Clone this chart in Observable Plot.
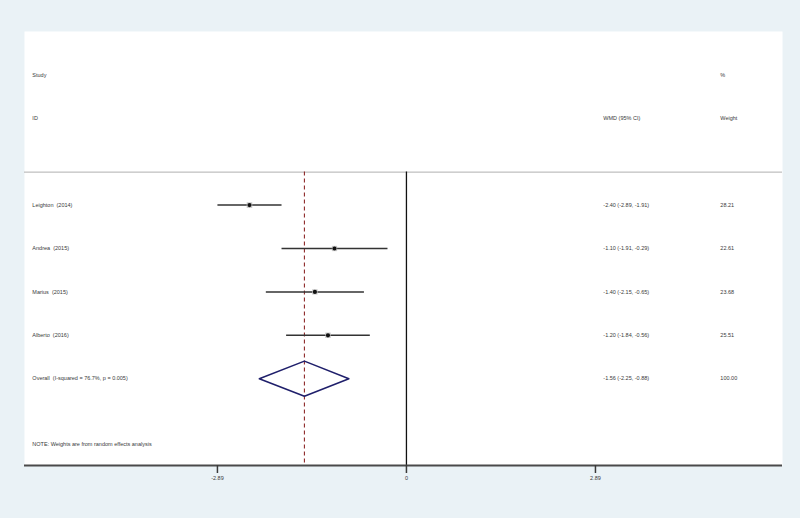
<!DOCTYPE html>
<html>
<head>
<meta charset="utf-8">
<script src="https://cdn.jsdelivr.net/npm/d3@7"></script>
<script src="https://cdn.jsdelivr.net/npm/@observablehq/plot@0.6"></script>
<style>
  html, body { margin: 0; padding: 0; background: #eaf2f6; }
  #chart svg { display: block; }
</style>
</head>
<body>
<div id="chart"></div>
<script>
// ---- data ----
const studies = ["Leighton  (2014)", "Andrea  (2015)", "Marius  (2015)", "Alberto  (2016)"];
const estimates = [-2.40, -1.10, -1.40, -1.20];
const lowerCI = [-2.89, -1.91, -2.15, -1.84];
const upperCI = [-1.91, -0.29, -0.65, -0.56];
const weights = [28.21, 22.61, 23.68, 25.51];
const overallLabel = "Overall  (I-squared = 76.7%, p = 0.005)";
const overallEst = -1.56;
const overallLo = -2.25;
const overallHi = -0.88;
const overallWeight = 100.00;
const tickValues = [-2.89, 0, 2.89];
const tickLabels = ["-2.89", "0", "2.89"];
const noteText = "NOTE: Weights are from random effects analysis";

// ---- layout (rows in y units, columns in x units) ----
const firstRow = 3;
const rows = studies.map((s, i) => ({
  label: s, est: estimates[i], lo: lowerCI[i], hi: upperCI[i], w: weights[i], row: firstRow + i
}));
const overallRow = firstRow + studies.length;
const overall = {label: overallLabel, est: overallEst, lo: overallLo, hi: overallHi, w: overallWeight, row: overallRow};
const fmt = v => v.toFixed(2);
const ciText = d => `${fmt(d.est)} (${fmt(d.lo)}, ${fmt(d.hi)})`;
const allRows = [...rows, overall];

const colLabel = -5.72, colCI = 3.01, colW = 4.80;
const sepY = 2.24, axisY = 9;
const dh = 0.405;
const diamond = [
  {x: overall.lo, y: overall.row},
  {x: overall.est, y: overall.row - dh},
  {x: overall.hi, y: overall.row},
  {x: overall.est, y: overall.row + dh},
  {x: overall.lo, y: overall.row}
];
const headers = [
  {t: "Study", x: colLabel, y: 0}, {t: "ID", x: colLabel, y: 1},
  {t: "WMD (95% CI)", x: colCI, y: 1},
  {t: "%", x: colW, y: 0}, {t: "Weight", x: colW, y: 1},
  {t: noteText, x: colLabel, y: 8.5}
];
const txt = "#3a3a3a";

const chart = Plot.plot({
  width: 800,
  height: 518,
  marginLeft: 24,
  marginRight: 18,
  marginTop: 31,
  marginBottom: 53,
  style: {background: "transparent", fontFamily: "'Liberation Sans', Arial, sans-serif", fontSize: "5.5px", color: txt},
  x: {domain: [-5.84, 5.75]},
  y: {domain: [-1, 9], reverse: true, axis: null},
  marks: [
    Plot.frame({fill: "white", stroke: null}),
    Plot.ruleY([sepY], {stroke: "#b0b0b0", strokeWidth: 1}),
    Plot.ruleX([0], {y1: sepY, y2: axisY, stroke: "#111", strokeWidth: 1.3}),
    Plot.ruleX([overallEst], {y1: sepY, y2: axisY, stroke: "#8e2a2a", strokeWidth: 1.1, strokeDasharray: "4,3"}),
    Plot.ruleY([axisY], {stroke: "#4a4a4a", strokeWidth: 2}),
    Plot.axisX({ticks: tickValues, tickSize: 8, tickPadding: 3, tickFormat: d => tickLabels[tickValues.indexOf(d)], stroke: "#3a3a3a", strokeWidth: 1.5, fill: txt, label: null}),
    Plot.link(rows, {x1: "lo", x2: "hi", y1: "row", y2: "row", stroke: "#333", strokeWidth: 1.5}),
    Plot.dot(rows, {x: "est", y: "row", symbol: "square", r: d => Math.sqrt(d.w) * 0.75, fill: "#c8c8c8", stroke: null}),
    Plot.dot(rows, {x: "est", y: "row", r: 2.1, fill: "#111", stroke: null}),
    Plot.line(diamond, {x: "x", y: "y", stroke: "#1f1f6b", strokeWidth: 1.5}),
    Plot.text(allRows, {x: colLabel, y: "row", text: "label", textAnchor: "start", fill: txt}),
    Plot.text(allRows, {x: colCI, y: "row", text: ciText, textAnchor: "start", fill: txt}),
    Plot.text(allRows, {x: colW, y: "row", text: d => fmt(d.w), textAnchor: "start", fill: txt}),
    Plot.text(headers, {x: "x", y: "y", text: "t", textAnchor: "start", fill: txt})
  ]
});
document.getElementById("chart").appendChild(chart);
</script>
</body>
</html>
